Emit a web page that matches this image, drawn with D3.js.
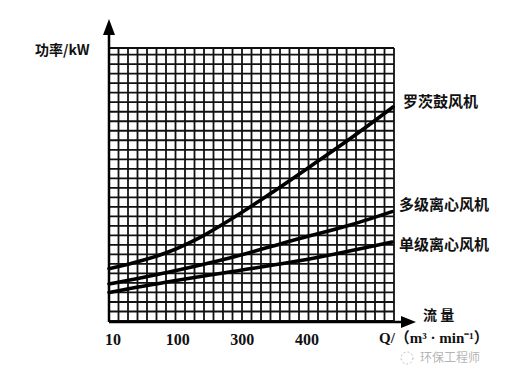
<!DOCTYPE html>
<html><head><meta charset="utf-8">
<script src="https://cdn.jsdelivr.net/npm/d3@7/dist/d3.min.js"></script>
<style>html,body{margin:0;padding:0;background:#fff;}svg{display:block;}</style>
</head><body>
<svg id="c" width="526" height="381"></svg>
<script>
// Data (x in flow-grid units, y in power-grid units)
const xTickLabels = ["10", "100", "300", "400"];
const rootsX = [0, 2.5, 6.1, 9.6, 13.0, 17.0, 21.4, 25.7, 29.9];
const rootsY = [5.5, 6.1, 7.2, 8.8, 10.8, 13.4, 16.4, 19.4, 22.5];
const multiX = [0, 6.1, 13.0, 19.4, 25.4, 29.8];
const multiY = [3.9, 5.1, 6.7, 8.5, 10.1, 11.5];
const singleX = [0, 6.1, 13.0, 21.5, 29.8];
const singleY = [3.0, 4.1, 5.2, 6.6, 8.3];
const seriesNames = ["罗茨鼓风机", "多级离心风机", "单级离心风机"];
const yTitle = "功率/kW";
const xTitle1 = "流 量";
const xTitle2 = "Q/（m³ · min⁻¹）";
const watermark = "环保工程师";

const svg = d3.select("#c");
const x = d3.scaleLinear().domain([0, 30]).range([109, 394]);
const y = d3.scaleLinear().domain([0, 28.7]).range([321, 48]);

// grid
const g = svg.append("g").attr("stroke", "#111").attr("stroke-width", 1.8);
g.selectAll("line.v").data(d3.range(0, 31)).join("line")
  .attr("x1", d => x(d)).attr("x2", d => x(d)).attr("y1", y(0)).attr("y2", y(28.7));
g.selectAll("line.h").data(d3.range(0, 29).concat([28.7])).join("line")
  .attr("y1", d => y(d)).attr("y2", d => y(d)).attr("x1", x(0)).attr("x2", x(30));

// axes
svg.append("line").attr("x1", x(0)).attr("x2", x(0)).attr("y1", 322).attr("y2", 30)
  .attr("stroke", "#000").attr("stroke-width", 2.5);
svg.append("path").attr("d", `M${x(0)},19 L${x(0)-6},35 L${x(0)+6},35 Z`).attr("fill", "#000");
svg.append("line").attr("x1", x(0)).attr("x2", 404).attr("y1", 322).attr("y2", 322)
  .attr("stroke", "#000").attr("stroke-width", 2.5);
svg.append("path").attr("d", `M416,322 L401,316 L401,328 Z`).attr("fill", "#000");

// curves
const line = d3.line().x(d => x(d[0])).y(d => y(d[1])).curve(d3.curveMonotoneX);
const series = [d3.zip(rootsX, rootsY), d3.zip(multiX, multiY), d3.zip(singleX, singleY)];
svg.selectAll("path.s").data(series).join("path").attr("class", "s")
  .attr("d", line).attr("fill", "none").attr("stroke", "#000").attr("stroke-width", 3.6)
  .attr("stroke-linecap", "round");

// series labels
const labelY = [102, 205, 245];
const labelX = [403, 399, 399];
svg.selectAll("text.lab").data(seriesNames).join("text").attr("class", "lab")
  .attr("x", (d, i) => labelX[i]).attr("y", (d, i) => labelY[i]).attr("dy", "0.35em")
  .attr("font-family", "Noto Sans CJK SC").attr("font-weight", "bold").attr("font-size", 15)
  .attr("fill", "#111").text(d => d);

// y title
svg.append("text").attr("x", 35).attr("y", 50).attr("dy", "0.35em")
  .attr("font-family", "Noto Sans CJK SC, Liberation Serif").attr("font-weight", "bold")
  .attr("font-size", 14).attr("fill", "#111").text(yTitle);

// x tick labels
const xt = d3.scalePoint().domain(xTickLabels).range([113, 307]);
svg.append("g").selectAll("text").data(xTickLabels).join("text")
  .attr("x", d => xt(d)).attr("y", 339).attr("dy", "0.35em").attr("text-anchor", "middle")
  .attr("font-family", "Liberation Serif").attr("font-weight", "bold").attr("font-size", 16)
  .attr("fill", "#111").text(d => d);

svg.append("text").attr("x", 423).attr("y", 315).attr("dy", "0.35em")
  .attr("font-family", "Noto Sans CJK SC").attr("font-weight", "bold").attr("font-size", 14)
  .attr("fill", "#111").text(xTitle1);
svg.append("text").attr("x", 379).attr("y", 338).attr("dy", "0.35em")
  .attr("font-family", "Liberation Serif, Noto Sans CJK SC").attr("font-weight", "bold").attr("font-size", 15)
  .attr("fill", "#111").text(xTitle2);

// watermark
const wm = svg.append("g").attr("opacity", 0.55);
wm.append("circle").attr("cx", 407).attr("cy", 358).attr("r", 6)
  .attr("fill", "none").attr("stroke", "#888").attr("stroke-width", 1).attr("stroke-dasharray", "2,2");
wm.append("text").attr("x", 420).attr("y", 358).attr("dy", "0.35em")
  .attr("font-family", "Noto Sans CJK SC").attr("font-size", 12).attr("fill", "#777").text(watermark);
</script>
</body></html>
